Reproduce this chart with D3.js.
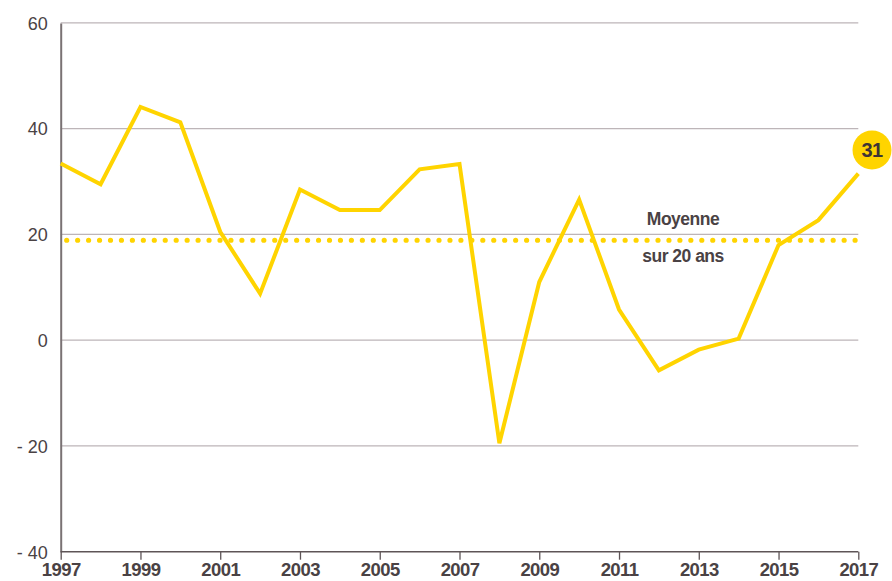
<!DOCTYPE html>
<html><head><meta charset="utf-8">
<script src="https://cdn.jsdelivr.net/npm/d3@7"></script>
<style>html,body{margin:0;padding:0;background:#fff}svg{display:block}</style>
</head><body><svg id="c" width="892" height="581"></svg>
<script>
const years = [1997,1998,1999,2000,2001,2002,2003,2004,2005,2006,2007,2008,2009,2010,2011,2012,2013,2014,2015,2016,2017];
const values = [33.4,29.5,44.1,41.2,20.5,8.8,28.5,24.6,24.6,32.3,33.3,-19.5,11.0,26.6,5.8,-5.7,-1.8,0.3,18.0,22.7,31.5];
const average = 18.9;
const yTicks = [-40,-20,0,20,40,60];
const xTicks = [1997,1999,2001,2003,2005,2007,2009,2011,2013,2015,2017];
const lastLabel = "31";
const avgLabel = ["Moyenne","sur 20 ans"];

const svg = d3.select("#c");
const x = d3.scaleLinear().domain([1997,2017]).range([60.7,858.3]);
const y = d3.scaleLinear().domain([-40,60]).range([551.7,22.9]);
const textCol = "#4a4244";
const font = "'Liberation Sans', Arial, sans-serif";

// gridlines
svg.append("g").selectAll("line").data(yTicks.filter(d=>d>-40)).join("line")
  .attr("x1", x(1997)).attr("x2", x(2017))
  .attr("y1", d=>y(d)).attr("y2", d=>y(d))
  .attr("stroke", "#bdb5b8").attr("stroke-width", 1.3);

// y axis
const ya = svg.append("g").attr("transform", `translate(${x(1997)},0)`)
  .call(d3.axisLeft(y).tickValues(yTicks).tickSize(0).tickPadding(13)
    .tickFormat(d => d < 0 ? "- " + Math.abs(d) : String(d)));
ya.select(".domain").attr("stroke", "#7a7274").attr("stroke-width", 2);
ya.selectAll("text").attr("font-family", font).attr("font-size", 18)
  .attr("fill", textCol).attr("dy", "0.35em");

// x axis
const xa = svg.append("g").attr("transform", `translate(0,${y(-40)})`)
  .call(d3.axisBottom(x).tickValues(xTicks).tickSize(8).tickPadding(3).tickFormat(d3.format("d")));
xa.select(".domain").attr("stroke", "#5e5557").attr("stroke-width", 1.5).attr("d", `M${x(1997)},0H${x(2017)}`);
xa.selectAll(".tick line").attr("stroke", "#5e5557").attr("stroke-width", 1.3);
xa.selectAll("text").attr("font-family", font).attr("font-size", 18.5).attr("font-weight", "bold")
  .attr("fill", textCol).attr("letter-spacing", "-0.6px");

// average dotted line
svg.append("line")
  .attr("x1", 66.7).attr("x2", x(2017))
  .attr("y1", y(average)).attr("y2", y(average))
  .attr("stroke", "#ffd400").attr("stroke-width", 5.2)
  .attr("stroke-linecap", "round").attr("stroke-dasharray", "0 10.95");

// data line
const line = d3.line().x((d,i)=>x(years[i])).y(d=>y(d));
svg.append("path").datum(values).attr("d", line)
  .attr("fill", "none").attr("stroke", "#ffd400").attr("stroke-width", 4)
  .attr("stroke-linejoin", "miter");

// average labels
svg.append("text").attr("x", 683).attr("y", 225).attr("text-anchor","middle")
  .attr("font-family", font).attr("font-size", 17.5).attr("font-weight","bold")
  .attr("fill", textCol).attr("letter-spacing","-0.5px").text(avgLabel[0]);
svg.append("text").attr("x", 683).attr("y", 262).attr("text-anchor","middle")
  .attr("font-family", font).attr("font-size", 17.5).attr("font-weight","bold")
  .attr("fill", textCol).attr("letter-spacing","-0.5px").text(avgLabel[1]);

// last value badge
svg.append("circle").attr("cx", 872).attr("cy", 150).attr("r", 19.5).attr("fill", "#ffd400");
svg.append("text").attr("x", 872).attr("y", 150).attr("dy","0.36em").attr("text-anchor","middle")
  .attr("font-family", font).attr("font-size", 20).attr("font-weight","bold")
  .attr("fill", "#3e3436").attr("letter-spacing","-0.5px").text(lastLabel);
</script></body></html>
